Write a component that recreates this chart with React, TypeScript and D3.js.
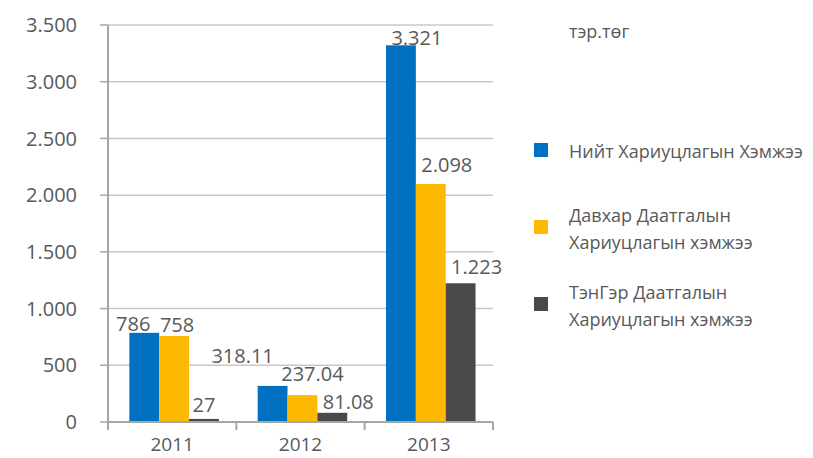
import React from "react";
import * as d3 from "d3";

const years = ["2011", "2012", "2013"];
const seriesNames = [
  ["Нийт Хариуцлагын Хэмжээ"],
  ["Давхар Даатгалын", "Хариуцлагын хэмжээ"],
  ["ТэнГэр Даатгалын", "Хариуцлагын хэмжээ"],
];
const colors = ["#0070C0", "#FFB900", "#4B494A"];
// values per year: [total, reinsurance, tenger]
const totalVals = [786, 318.11, 3321];
const reinsVals = [758, 237.04, 2098];
const tengerVals = [27, 81.08, 1223];
const valueLabels = [
  ["786", "318.11", "3.321"],
  ["758", "237.04", "2.098"],
  ["27", "81.08", "1.223"],
];
// small label shifts seen in the source picture [dx, dy]
const labelNudge = [
  [[-11, -2], [-30, -23], [16, 0]],
  [[3, -4], [10, -14], [16, -12]],
  [[0, -7], [16, -4], [16, -9]],
];
const yTicks = [0, 500, 1000, 1500, 2000, 2500, 3000, 3500];
const unitLabel = "тэр.төг";

const W = 813, H = 458;
const m = { left: 108, right: 320, top: 25, bottom: 36 };

export default function App() {
  const series = [totalVals, reinsVals, tengerVals];
  const fmt = d3.formatLocale({ decimal: ",", thousands: ".", grouping: [3], currency: ["", ""] }).format(",d");

  const x = d3.scaleBand().domain(years).range([m.left, W - m.right]).padding(0);
  const inner = d3.scaleBand<number>().domain([0, 1, 2]).range([0, x.bandwidth()]).paddingInner(0).paddingOuter(0.65).align(0.55);
  const y = d3.scaleLinear().domain([0, 3500]).range([H - m.bottom, m.top]);

  const font = "'Open Sans', 'DejaVu Sans', sans-serif";
  const txt = "#595959";
  const x0 = m.left, x1 = W - m.right, yb = y(0);

  return (
    <svg width={W} height={H} style={{ position: "absolute", left: 0, top: 0 }} fontFamily={font}>
      <rect width={W} height={H} fill="#fff" />
      {/* gridlines + y ticks */}
      {yTicks.map(t => (
        <g key={t}>
          {t > 0 && <line x1={x0} x2={x1} y1={y(t)} y2={y(t)} stroke="#c8c8c8" strokeWidth={1.5} />}
          <line x1={x0 - 8} x2={x0} y1={y(t)} y2={y(t)} stroke="#a6a6a6" strokeWidth={1.5} />
          <text x={77} y={y(t)} dy="0.36em" textAnchor="end" fontSize={20} fill={txt}>{fmt(t)}</text>
        </g>
      ))}
      {/* bars */}
      {series.map((vals, si) =>
        vals.map((v, yi) => (
          <rect key={si + "-" + yi}
            x={(x(years[yi]) as number) + (inner(si) as number)}
            y={y(v)}
            width={inner.bandwidth()}
            height={yb - y(v)}
            fill={colors[si]} />
        ))
      )}
      {/* axes */}
      <line x1={x0} x2={x0} y1={m.top} y2={yb + 8} stroke="#a6a6a6" strokeWidth={2} />
      <line x1={x0} x2={x1} y1={yb} y2={yb} stroke="#a6a6a6" strokeWidth={2} />
      {years.map((yr, i) => (
        <g key={yr}>
          <line x1={(x(yr) as number) + x.bandwidth()} x2={(x(yr) as number) + x.bandwidth()} y1={yb} y2={yb + 8} stroke="#a6a6a6" strokeWidth={2} />
          <text x={(x(yr) as number) + x.bandwidth() / 2} y={451} textAnchor="middle" fontSize={19} fill={txt}>{yr}</text>
        </g>
      ))}
      {/* value labels */}
      {series.map((vals, si) =>
        vals.map((v, yi) => (
          <text key={"l" + si + "-" + yi}
            x={(x(years[yi]) as number) + (inner(si) as number) + inner.bandwidth() / 2 + labelNudge[si][yi][0]}
            y={y(v) + labelNudge[si][yi][1]}
            textAnchor="middle" fontSize={20} fill={txt}>{valueLabels[si][yi]}</text>
        ))
      )}
      {/* unit */}
      <text x={569} y={38} fontSize={18} fill={txt}>{unitLabel}</text>
      {/* legend */}
      {seriesNames.map((lines, i) => {
        const cy = [150, 227, 304][i];
        return (
          <g key={i}>
            <rect x={534} y={cy - 7} width={14} height={14} fill={colors[i]} />
            {lines.map((ln, j) => (
              <text key={j} x={569} y={lines.length === 1 ? cy + 8 : cy - 5 + j * 27} fontSize={18} fill={txt}>{ln}</text>
            ))}
          </g>
        );
      })}
    </svg>
  );
}
